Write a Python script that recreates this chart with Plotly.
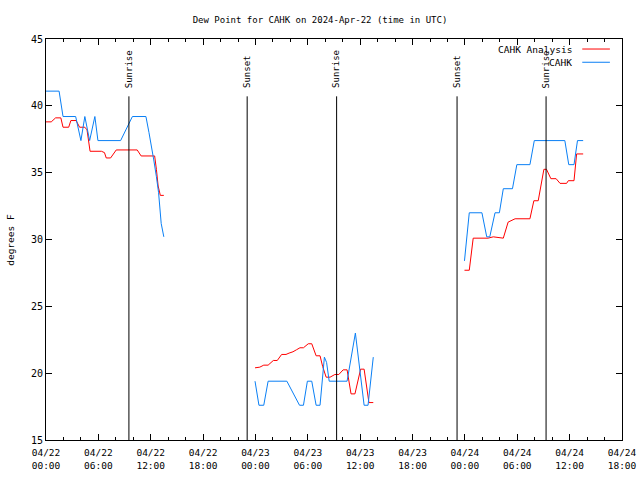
import pandas as pd
import plotly.graph_objects as go

# hours since 2024-04-22 00:00 UTC
anl_h_d1 = [0.0, 0.6, 1.1, 1.7, 1.95, 2.6, 2.85, 3.45, 3.85, 4.45, 4.7, 5.05, 6.35, 6.7, 6.9, 7.4, 8.05, 10.45, 10.9, 12.45, 12.65, 12.85, 13.1, 13.5]
anl_v_d1 = [38.8, 38.8, 39.1, 39.1, 38.4, 38.4, 38.9, 38.9, 38.4, 38.4, 38.2, 36.6, 36.6, 36.5, 36.1, 36.1, 36.7, 36.7, 36.25, 36.25, 35.25, 34.0, 33.3, 33.3]
obs_h_d1 = [0.0, 1.5, 1.95, 3.4, 4.0, 4.45, 5.0, 5.6, 5.95, 8.55, 9.9, 11.45, 11.8, 12.1, 12.35, 12.65, 12.9, 13.2, 13.5]
obs_v_d1 = [41.1, 41.1, 39.2, 39.2, 37.4, 39.2, 37.4, 39.2, 37.4, 37.4, 39.2, 39.2, 38.0, 36.95, 35.95, 34.7, 33.5, 31.2, 30.2]

anl_h_d2 = [23.95, 24.5, 24.95, 25.45, 26.05, 26.5, 27.0, 27.5, 27.85, 28.3, 28.7, 29.1, 29.5, 30.05, 30.45, 30.95, 31.4, 31.7, 32.1, 32.55, 33.1, 33.55, 34.05, 34.5, 34.95, 35.4, 36.05, 36.45, 37.0, 37.5]
anl_v_d2 = [20.4, 20.45, 20.6, 20.6, 20.95, 20.95, 21.4, 21.4, 21.5, 21.6, 21.75, 21.9, 21.9, 22.2, 22.2, 21.3, 21.3, 20.5, 19.7, 19.7, 19.9, 19.9, 20.25, 20.25, 18.45, 18.45, 20.3, 20.3, 17.8, 17.8]
obs_h_d2 = [23.95, 24.4, 24.95, 25.45, 27.6, 29.05, 29.5, 29.95, 30.45, 30.95, 31.4, 31.9, 32.15, 32.45, 34.5, 35.45, 36.45, 36.9, 37.5]
obs_v_d2 = [19.4, 17.6, 17.6, 19.4, 19.4, 17.6, 17.6, 19.4, 19.4, 17.6, 17.6, 21.2, 20.8, 19.4, 19.4, 23.0, 17.6, 17.6, 21.2]

anl_h_d3 = [47.95, 48.5, 48.95, 50.65, 51.25, 52.4, 52.95, 53.75, 55.45, 55.9, 56.4, 57.05, 57.35, 57.85, 58.45, 58.9, 59.65, 59.85, 60.5, 60.8, 61.55]
anl_v_d3 = [27.7, 27.7, 30.1, 30.1, 30.2, 30.1, 31.3, 31.55, 31.55, 32.9, 32.9, 35.25, 35.25, 34.55, 34.55, 34.2, 34.2, 34.4, 34.4, 36.4, 36.4]
obs_h_d3 = [47.95, 48.5, 49.95, 50.5, 50.85, 51.45, 51.95, 52.4, 53.45, 53.95, 55.45, 55.95, 59.45, 59.9, 60.5, 60.9, 61.55]
obs_v_d3 = [28.4, 32.0, 32.0, 30.2, 30.2, 32.0, 32.0, 33.8, 33.8, 35.6, 35.6, 37.4, 37.4, 35.6, 35.6, 37.4, 37.4]

sun_h = [9.5, 23.05, 33.3, 47.1, 57.3]
sun_labels = ["Sunrise", "Sunset", "Sunrise", "Sunset", "Sunrise"]

series_names = ["CAHK Analysis", "CAHK"]
series_colors = ["#ff0000", "#0a7ff5"]

base = pd.Timestamp("2024-04-22 00:00")


def to_t(hours):
    return [base + pd.Timedelta(hours=h) for h in hours]


def join(hs, vs):
    xs, ys = [], []
    for h, v in zip(hs, vs):
        if xs:
            xs.append(None)
            ys.append(None)
        xs += to_t(h)
        ys += v
    return xs, ys


ax, ay = join([anl_h_d1, anl_h_d2, anl_h_d3], [anl_v_d1, anl_v_d2, anl_v_d3])
ox, oy = join([obs_h_d1, obs_h_d2, obs_h_d3], [obs_v_d1, obs_v_d2, obs_v_d3])

FONT = "DejaVu Sans Mono"

fig = go.Figure()
fig.add_trace(go.Scatter(x=ax, y=ay, mode="lines", name=series_names[0],
                         line=dict(color=series_colors[0], width=1), connectgaps=False))
fig.add_trace(go.Scatter(x=ox, y=oy, mode="lines", name=series_names[1],
                         line=dict(color=series_colors[1], width=1), connectgaps=False))

for h, lab in zip(sun_h, sun_labels):
    t = base + pd.Timedelta(hours=h)
    fig.add_shape(type="line", xref="x", yref="paper", x0=t, x1=t, y0=0, y1=0.857,
                  line=dict(color="black", width=1))
    fig.add_annotation(x=t, y=0.872, xref="x", yref="paper", text=lab, textangle=-90,
                       showarrow=False, xanchor="center", yanchor="bottom",
                       font=dict(family=FONT, size=9, color="black"))

# legend (key) drawn gnuplot-style: text right-aligned, sample on the right
for i, (nm, col) in enumerate(zip(series_names, series_colors)):
    yk = 0.975 - i * 0.033
    fig.add_annotation(x=0.917, y=yk, xref="paper", yref="paper", text=nm,
                       showarrow=False, xanchor="right", yanchor="middle",
                       font=dict(family=FONT, size=9.5, color="black"))
    fig.add_shape(type="line", xref="paper", yref="paper", x0=0.931, x1=0.979,
                  y0=yk, y1=yk, line=dict(color=col, width=1))

fig.add_annotation(x=-0.062, y=0.5, xref="paper", yref="paper", text="degrees F",
                   textangle=-90, showarrow=False, xanchor="center", yanchor="middle",
                   font=dict(family=FONT, size=9.5, color="black"))

fig.update_layout(
    width=640, height=480,
    margin=dict(l=46, r=18, t=39, b=40, autoexpand=False),
    paper_bgcolor="white", plot_bgcolor="white",
    showlegend=False,
    title=dict(text="Dew Point for CAHK on 2024-Apr-22 (time in UTC)", x=0.5, xanchor="center",
               yref="container", y=0.958, yanchor="middle",
               font=dict(family=FONT, size=9, color="black")),
    font=dict(family=FONT, size=9, color="black"),
)
fig.update_xaxes(
    type="date", automargin=False,
    range=[base, base + pd.Timedelta(hours=66)],
    tick0=base, dtick=6 * 3600 * 1000, tickformat="%m/%d<br>%H:%M",
    ticks="inside", ticklen=6, tickcolor="black", ticklabelstandoff=4,
    minor=dict(ticks="inside", ticklen=3, dtick=2 * 3600 * 1000, tickcolor="black", showgrid=False),
    showline=True, linecolor="black", linewidth=1, mirror="allticks",
    showgrid=False, zeroline=False, tickfont=dict(family=FONT, size=9.5),
)
fig.update_yaxes(
    automargin=False,
    range=[15, 45], dtick=5, tick0=15,
    ticks="inside", ticklen=6, tickcolor="black",
    showline=True, linecolor="black", linewidth=1, mirror="allticks",
    showgrid=False, zeroline=False, tickfont=dict(family=FONT, size=10),
)

fig.write_html("out.html", config={"displayModeBar": False},
               post_script="document.body.style.margin='0';document.body.style.padding='0';")
